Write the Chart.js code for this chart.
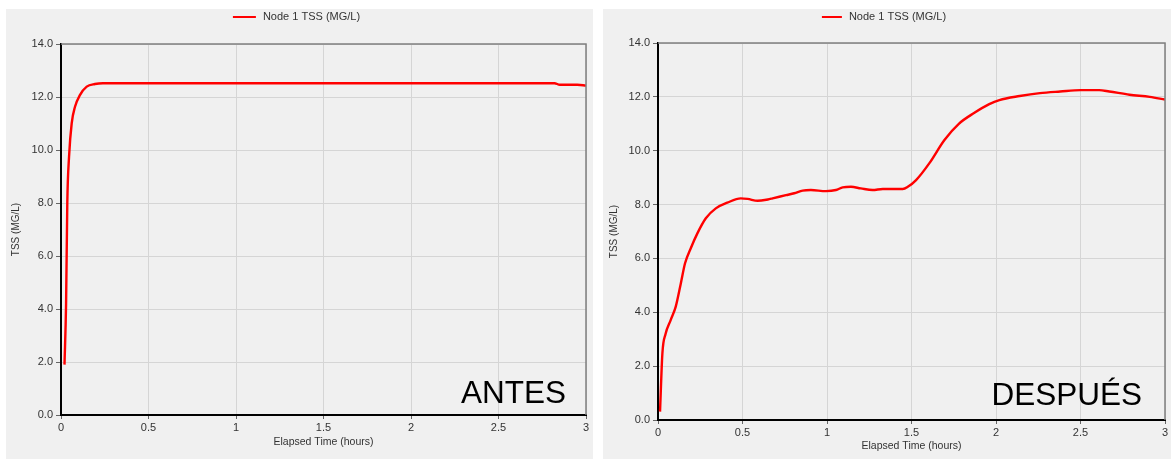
<!DOCTYPE html>
<html>
<head>
<meta charset="utf-8">
<script src="https://cdn.jsdelivr.net/npm/chart.js@4"></script>
<style>
  html, body { margin: 0; padding: 0; background: #fff; width: 1171px; height: 459px; overflow: hidden; }
  .panel { position: absolute; top: 9px; height: 450px; background: #f0f0f0; }
  #p1 { left: 6px; width: 587px; }
  #p2 { left: 603px; width: 568px; }
  canvas { display: block; }
</style>
</head>
<body>
<div class="panel" id="p1"><canvas id="c1" width="587" height="450"></canvas></div>
<div class="panel" id="p2"><canvas id="c2" width="568" height="450"></canvas></div>
<script>
// Text
const seriesName = 'Node 1 TSS (MG/L)';
const xTitle = 'Elapsed Time (hours)';
const yTitle = 'TSS (MG/L)';
const panelTags = ['ANTES', 'DESPUÉS'];

// Tick values
const xTicks = [0, 0.5, 1, 1.5, 2, 2.5, 3];
const yTicks = [0, 2, 4, 6, 8, 10, 12, 14];

// Series: before
const hoursAntes = [0.02, 0.029, 0.036, 0.046, 0.061, 0.08, 0.108, 0.147, 0.194, 0.24, 0.5, 1.0, 1.5, 2.0, 2.5, 2.82, 2.85, 2.95, 3.0];
const tssAntes   = [1.9, 4.2, 8.0, 9.75, 11.0, 11.63, 12.07, 12.39, 12.49, 12.52, 12.52, 12.52, 12.52, 12.52, 12.52, 12.52, 12.46, 12.46, 12.43];

// Series: after
const hoursDespues = [0.012, 0.026, 0.045, 0.075, 0.105, 0.135, 0.16, 0.194, 0.233, 0.283, 0.342, 0.41, 0.49, 0.53, 0.59, 0.65, 0.678, 0.757, 0.806, 0.856, 0.905, 0.994, 1.053, 1.093, 1.142, 1.2, 1.27, 1.33, 1.448, 1.478, 1.527, 1.606, 1.695, 1.78, 1.87, 1.96, 2.02, 2.14, 2.26, 2.38, 2.5, 2.61, 2.67, 2.79, 2.91, 3.0];
const tssDespues   = [0.31, 2.48, 3.2, 3.71, 4.21, 5.07, 5.82, 6.38, 6.93, 7.49, 7.86, 8.07, 8.23, 8.21, 8.14, 8.19, 8.23, 8.35, 8.42, 8.52, 8.54, 8.5, 8.54, 8.64, 8.66, 8.6, 8.54, 8.58, 8.58, 8.66, 8.91, 9.54, 10.4, 11.0, 11.4, 11.73, 11.88, 12.03, 12.14, 12.2, 12.25, 12.25, 12.2, 12.08, 12.0, 11.9];

const FONT = "'Liberation Sans', Arial, sans-serif";
Chart.defaults.font.family = FONT;
Chart.defaults.color = '#333';

// Thin grey frame on the top and right edges of the plot area
const frame = {
  id: 'frame',
  afterDatasetsDraw(chart) {
    const { ctx, chartArea: a } = chart;
    ctx.save();
    ctx.strokeStyle = '#7f7f7f';
    ctx.lineWidth = 1.5;
    ctx.beginPath();
    ctx.moveTo(a.left, a.top);
    ctx.lineTo(a.right, a.top);
    ctx.lineTo(a.right, a.bottom);
    ctx.stroke();
    ctx.restore();
  }
};

// Single-row legend centred at the top of the panel
const legendRow = {
  id: 'legendRow',
  afterDraw(chart, args, opts) {
    const ds = chart.data.datasets[0];
    const ctx = chart.ctx;
    ctx.save();
    ctx.font = '11px ' + FONT;
    const tw = ctx.measureText(ds.label).width;
    const total = opts.lineLen + 7 + tw;
    const x = chart.width / 2 - total / 2 + opts.shift;
    ctx.strokeStyle = ds.borderColor;
    ctx.lineWidth = 2;
    ctx.beginPath();
    ctx.moveTo(x, opts.y);
    ctx.lineTo(x + opts.lineLen, opts.y);
    ctx.stroke();
    ctx.fillStyle = '#333';
    ctx.textBaseline = 'middle';
    ctx.textAlign = 'left';
    ctx.fillText(ds.label, x + opts.lineLen + 7, opts.y);
    ctx.restore();
  }
};

// Large caption in the lower-right corner of the plot area
const panelTag = {
  id: 'panelTag',
  afterDraw(chart, args, opts) {
    const { ctx, chartArea: a } = chart;
    ctx.save();
    ctx.font = '31.5px ' + FONT;
    ctx.fillStyle = '#000';
    ctx.textAlign = 'right';
    ctx.textBaseline = 'alphabetic';
    ctx.fillText(opts.text, a.right - opts.dx, a.bottom - opts.dy);
    ctx.restore();
  }
};

function makeChart(id, hours, tss, cfg) {
  return new Chart(document.getElementById(id), {
    type: 'line',
    data: {
      datasets: [{
        label: seriesName,
        data: hours.map((h, i) => ({ x: h, y: tss[i] })),
        borderColor: '#ff0000',
        borderWidth: 2.4,
        pointRadius: 0,
        fill: false,
        cubicInterpolationMode: 'monotone'
      }]
    },
    options: {
      responsive: false,
      animation: false,
      devicePixelRatio: 1,
      layout: { padding: { left: 0, right: cfg.padRight, top: cfg.padTop, bottom: 0 } },
      plugins: {
        legend: { display: false },
        tooltip: { enabled: false },
        legendRow: { lineLen: cfg.legendLen, y: 8, shift: -3 },
        panelTag: { text: cfg.tag, dx: cfg.tagDx, dy: cfg.tagDy }
      },
      scales: {
        x: {
          type: 'linear',
          min: 0, max: 3,
          afterFit: s => { s.height = cfg.xHeight; },
          afterBuildTicks: s => { s.ticks = xTicks.map(v => ({ value: v })); },
          ticks: { callback: v => String(v), font: { size: 11 }, padding: 2, maxRotation: 0, color: '#333' },
          grid: { color: '#d5d5d5', lineWidth: 1, tickLength: 4, tickColor: '#666' },
          border: { color: '#000', width: 2 },
          title: { display: true, text: xTitle, font: { size: 10.5 }, color: '#333', padding: { top: 0, bottom: cfg.xTitlePad } }
        },
        y: {
          type: 'linear',
          min: 0, max: 14,
          afterFit: s => { s.width = 55; },
          afterBuildTicks: s => { s.ticks = yTicks.map(v => ({ value: v })); },
          ticks: { callback: v => v.toFixed(1), font: { size: 11 }, padding: 3, color: '#333' },
          grid: { color: '#d5d5d5', lineWidth: 1, tickLength: 5, tickColor: '#666' },
          border: { color: '#000', width: 2 },
          title: { display: true, text: yTitle, font: { size: 10 }, color: '#333', padding: { top: cfg.yTitlePad, bottom: 0 } }
        }
      }
    },
    plugins: [frame, legendRow, panelTag]
  });
}

makeChart('c1', hoursAntes, tssAntes, {
  padRight: 7, padTop: 35, xHeight: 44, xTitlePad: 11, yTitlePad: 4,
  legendLen: 23, tag: panelTags[0], tagDx: 20, tagDy: 12
});
makeChart('c2', hoursDespues, tssDespues, {
  padRight: 6, padTop: 34, xHeight: 39, xTitlePad: 7, yTitlePad: 5,
  legendLen: 20, tag: panelTags[1], tagDx: 23, tagDy: 15
});
</script>
</body>
</html>
